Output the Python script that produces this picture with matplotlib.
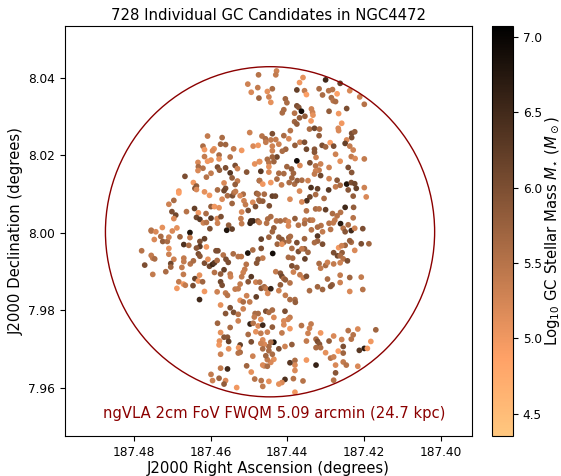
import numpy as np
from matplotlib import pyplot as plt
from matplotlib.patches import Ellipse
from matplotlib.colors import Normalize
from matplotlib.cm import ScalarMappable

# GC positions, in millidegrees from RA 187.44 / Dec 8.00
# north-west part of the field
ra_nw = [7.5,10.3,7.7,9.4,7.4,20.8,17.0,9.8,22.0,17.4,16.1,19.1,21.6,19.5,14.0,11.9,8.9,7.6,21.6,17.8,17.8,14.9,23.3,19.9,20.8,
         23.2,23.3,22.0,18.2,17.7,16.1,13.6,13.0,19.9,21.1,14.9,10.6,8.5,7.3,26.7,14.4,13.0,7.3,24.5,23.7,24.1,23.7,16.5,13.6,28.3,
         28.3,21.6,20.3,18.2,16.1,16.5,15.6,14.3,13.9,13.5,17.0,11.5,12.3,11.3,8.0,7.6,7.4,29.6,30.9,14.4,10.9,9.0,8.3,10.2,24.2,
         19.9,19.0,17.8,30.1,29.1,26.3,23.2,21.2,11.9,8.9,9.7,9.5,7.7,23.7,22.8,19.9,18.3,17.3,29.6,12.1,21.9,21.1,18.2,15.3,11.9,
         32.6,28.8,35.5,15.8,20.2,14.4]
dec_nw = [40.8,38.4,37.5,36.3,34.8,25.0,24.6,25.9,22.4,22.9,22.8,21.7,21.5,21.2,21.7,21.3,22.4,22.6,19.7,20.1,19.1,19.6,18.2,18.8,18.5,
          17.1,16.1,16.7,17.0,16.2,16.8,17.4,16.6,15.4,14.4,15.5,15.7,17.8,18.4,14.6,14.2,13.4,13.5,13.0,12.1,11.5,11.2,12.9,12.5,10.8,
          10.3,10.6,9.7,11.1,11.5,10.9,9.6,9.6,10.4,10.7,8.7,10.0,9.6,8.3,10.2,10.0,8.5,8.4,7.4,7.6,7.3,7.9,6.8,5.8,6.3,
          6.8,6.8,6.5,5.5,4.6,5.5,5.2,5.0,5.4,3.1,2.5,3.1,3.1,4.0,3.5,3.8,3.7,4.2,3.7,3.7,2.6,2.7,2.5,2.0,2.4,
          1.4,1.3,0.7,0.7,1.1,1.0]
mass_nw = [5.5,5.3,5.4,5.2,5.7,5.4,5.6,5.3,5.6,5.7,5.7,5.1,5.0,5.2,5.4,5.0,5.2,5.0,5.4,5.6,5.1,5.5,5.2,5.1,5.0,
           5.6,5.2,5.5,6.0,5.8,6.0,6.0,5.3,5.4,5.5,6.3,5.9,5.1,5.2,6.0,5.8,5.4,5.9,5.0,5.8,5.9,5.2,5.2,5.8,5.0,
           4.9,5.1,5.0,5.6,6.0,6.1,5.6,6.0,5.6,5.4,5.2,5.6,5.2,5.3,5.8,5.6,5.6,5.6,5.3,5.7,5.4,5.2,6.0,6.0,6.2,
           5.8,5.0,5.1,6.0,6.1,5.5,5.0,5.6,5.2,6.6,6.6,6.5,5.7,6.1,6.3,6.3,5.2,6.0,5.2,5.4,5.3,5.5,5.3,5.8,5.4,
           5.1,5.1,5.5,6.8,6.0,6.2]

# north-east part of the field
ra_ne = [2.8,3.0,3.9,5.2,4.8,4.3,-2.5,-3.2,-4.1,-4.5,-5.0,-8.3,-9.2,-10.0,-10.8,-11.8,-13.0,-13.8,-16.3,-18.9,-20.1,-11.5,-12.0,-12.6,0.5,
         0.1,-2.5,-3.0,-3.7,0.9,1.3,-1.9,-3.2,-4.6,-6.3,-6.6,-6.7,-6.2,-10.9,-15.5,-13.4,-1.9,-2.5,-14.2,-0.8,-5.8,-7.1,-8.4,-8.3,-13.3,
         -13.4,-16.8,-17.6,-16.8,-15.5,-15.1,-11.2,-16.3,-17.2,-9.1,-10.0,-12.1,0.9,3.9,6.6,5.7,5.6,4.3,3.0,2.2,-0.4,-3.3,-4.5,-2.0,-5.0,
         -7.1,-7.1,0.4,1.3,3.9,3.9,-12.6,-13.8,-16.7,-17.7,-20.1,2.7,3.9,5.2,3.5,4.8,7.2,-2.5,-3.3,-5.9,-7.5,-8.7,-7.4,-8.3,-7.4,
         -7.1,-10.9,-8.7,-10.9,-15.9,-16.8,0.1,-1.1,-1.6,0.9,2.2,-1.2,-0.5,-1.9,-2.6,-3.8,-5.4,2.7,6.9,4.8,4.8,
         7.2,4.3,6.4,1.5,-6.2,-7.9,-10.8,-12.6,-13.8,-15.5,-16.7,-17.6,-18.0,-20.1,-13.0,-3.2,-7.4,3.9,3.1,6.0,
         -0.7,-5.9,-5.1,-3.8,-9.6,-17.2,-20.6,-15.9,4.7,7.2,6.4,-7.4,-8.3,-5.0,-10.0,-15.1,-17.3,-11.8,-13.0,-13.9,
         -2.0,4.3,5.1,2.8,1.8,0.5,-0.3,-4.6,-5.9,-6.6,-12.4,-17.2,-10.9,-12.0,-13.9,-15.9,-2.9,-4.5,-8.8,-7.9,
         7.3,5.4,3.5,-0.3,-14.6,-19.7]
dec_ne = [41.8,40.8,37.2,36.5,35.1,33.7,36.9,38.8,40.1,36.7,35.7,37.2,35.6,39.5,36.7,37.0,35.9,38.6,36.7,35.1,33.2,34.9,34.1,33.9,34.6,
          33.6,32.8,32.4,31.4,31.8,31.0,30.9,29.7,30.1,32.0,31.1,30.4,28.9,31.4,32.1,30.8,28.7,28.1,28.3,26.4,26.8,27.0,26.8,25.1,27.0,
          26.4,25.7,26.1,24.6,24.0,23.1,23.3,22.4,21.4,22.6,22.2,22.4,25.1,25.6,25.0,24.3,23.4,24.0,24.1,22.9,24.3,23.4,23.4,22.6,21.6,
          21.6,20.8,21.6,21.1,22.4,21.2,20.3,18.5,19.7,19.2,19.1,19.6,19.6,19.0,18.4,18.1,18.4,18.6,17.4,18.1,19.5,17.8,17.3,16.2,16.0,
          15.2,16.9,14.8,14.0,16.9,15.6,17.1,16.5,15.4,15.3,15.4,14.2,13.0,12.6,13.5,13.6,13.5,13.9,15.9,17.1,15.7,
          13.5,13.0,12.6,12.4,11.7,11.4,11.1,11.9,12.3,12.6,13.0,12.7,11.5,11.7,13.6,10.8,9.9,9.5,9.5,10.0,
          8.7,9.3,8.3,8.0,8.9,9.5,9.3,11.1,7.0,8.2,8.2,6.2,6.2,5.7,6.0,6.6,6.6,5.0,4.4,5.3,
          3.7,4.2,3.6,3.1,3.1,3.3,2.9,3.3,3.3,3.3,3.3,3.9,2.5,2.6,2.4,2.1,2.0,2.4,1.9,1.5,
          2.7,2.5,1.3,1.8,1.2,1.1]
mass_ne = [5.3,5.4,5.6,5.1,5.3,5.1,6.2,5.0,5.1,5.4,4.9,5.6,5.6,6.5,5.5,5.5,4.9,6.2,5.2,5.3,5.5,5.6,5.5,5.6,5.7,
           5.6,6.0,5.9,6.9,5.6,5.6,5.5,5.8,5.8,5.3,5.3,5.1,5.0,5.8,6.0,5.0,5.7,5.8,5.0,5.5,5.6,6.1,5.6,5.8,5.2,
           5.2,6.0,5.8,6.0,5.2,6.2,4.9,5.4,5.3,6.0,5.7,6.0,5.6,6.0,5.5,5.6,5.4,5.4,5.4,5.3,5.2,5.3,6.0,5.8,6.1,
           5.9,5.9,5.7,5.6,5.3,5.3,5.3,5.1,5.4,5.2,5.4,6.1,5.7,5.6,5.7,5.5,5.1,6.9,5.2,6.0,5.3,5.3,5.5,5.4,5.3,
           5.4,5.3,6.1,5.3,6.0,5.9,5.7,5.8,5.7,5.6,5.6,5.7,5.6,5.6,5.8,5.6,5.3,5.6,6.3,5.1,5.2,
           5.5,5.0,5.0,5.4,6.4,6.2,6.3,5.4,5.6,6.8,6.0,6.1,6.2,5.3,5.9,5.2,5.6,6.2,6.1,5.6,
           5.2,6.1,6.4,5.2,5.6,5.8,5.2,5.9,6.0,5.7,5.8,5.6,5.5,5.5,6.2,6.5,5.8,5.6,5.5,5.5,
           5.8,5.6,5.6,5.5,5.6,5.5,5.2,5.4,5.6,5.4,5.4,5.5,5.5,5.4,6.7,5.6,5.5,5.6,5.5,5.6,
           5.4,5.5,5.8,5.2,5.5,6.0]

# south-west part of the field
ra_sw = [35.5,34.3,30.0,28.0,25.4,25.4,34.7,33.0,32.5,31.3,30.9,27.0,25.7,22.8,21.6,22.8,23.7,21.1,30.9,38.0,35.5,35.1,34.6,30.9,29.6,
         37.2,35.1,31.7,30.4,30.4,27.5,27.0,27.0,27.1,25.3,24.5,23.2,22.8,21.6,20.7,20.3,19.5,19.0,19.0,18.3,18.6,18.1,16.7,16.0,15.4,
         16.5,17.4,14.9,14.8,12.0,14.1,12.8,10.3,9.0,7.6,8.0,10.7,11.1,11.5,11.9,9.4,22.9,24.1,23.2,22.1,28.3,28.8,27.1,26.6,24.6,
         21.6,22.9,18.3,17.4,17.0,16.1,15.6,17.4,14.9,16.1,14.0,12.8,11.5,12.3,11.5,10.6,9.8,8.1,8.2,10.2,13.6,12.8,12.3,12.8,8.4,
         7.6,8.6,18.2,14.9,9.7,8.9,7.6,8.2,17.4,10.2,16.5,15.6,15.3,17.7,17.8,12.3,12.7,9.4,15.3,17.4,
         12.3,12.8,9.0,10.6,17.4,15.6,9.4,19.9,17.8,16.1,16.5,19.5,13.2,8.5]
dec_sw = [0.5,0.3,0.5,-1.0,0.1,-1.2,-1.7,-0.9,-2.2,-2.2,-1.1,-3.0,-3.2,-2.2,-1.5,-3.5,-3.9,-3.6,-4.0,-4.6,-5.8,-6.5,-6.7,-5.5,-6.8,
          -8.3,-10.7,-10.0,-7.9,-8.8,-8.9,-6.5,-7.4,-10.7,-8.0,-7.2,-5.4,-6.0,-7.8,-6.8,-8.6,-8.1,-7.7,-10.2,-7.1,-4.6,-4.6,-5.7,-6.8,-7.6,
          -9.5,-10.6,-10.6,-11.3,-6.1,-5.4,-6.1,-5.2,-4.4,-6.8,-7.8,-8.1,-9.4,-10.2,-11.3,-11.3,-10.9,-11.8,-12.4,-12.6,-12.6,-14.3,-13.2,-13.5,-13.6,
          -15.1,-17.2,-15.2,-12.6,-13.5,-15.5,-16.1,-18.6,-19.3,-20.8,-20.5,-21.0,-19.6,-17.4,-17.8,-16.2,-17.8,-16.5,-12.7,-12.6,-14.5,-14.4,-13.2,-22.7,-20.8,
          -20.8,-21.7,-23.3,-24.4,-23.5,-23.3,-24.0,-25.5,-25.7,-26.2,-26.9,-26.9,-28.0,-27.9,-28.9,-28.9,-29.6,-28.1,-29.9,-31.3,
          -30.8,-31.0,-31.8,-34.3,-34.9,-35.1,-35.9,-36.5,-37.5,-38.1,-39.0,-38.1,-39.9,-37.7]
mass_sw = [5.5,5.2,5.2,5.7,6.8,5.4,5.2,5.6,5.8,5.6,5.3,6.4,5.6,6.0,6.2,6.3,5.9,5.0,5.1,5.5,5.4,5.4,5.6,5.3,5.3,
           6.0,5.4,5.6,6.1,5.7,5.4,5.4,5.4,5.4,5.5,5.6,6.0,5.9,6.0,5.1,6.1,6.5,6.3,5.5,5.6,6.0,6.0,5.5,6.0,6.0,
           6.2,5.8,5.4,5.3,5.5,5.6,5.5,6.8,5.6,5.9,5.9,5.5,5.4,5.3,5.4,6.3,5.1,6.2,5.0,5.7,5.4,5.0,5.0,5.4,6.0,
           5.0,6.5,5.3,6.1,6.0,5.4,5.5,5.1,6.0,5.9,6.0,5.5,5.3,5.1,5.6,5.3,5.4,6.2,5.3,5.9,5.4,5.4,5.4,5.3,5.6,
           5.6,5.4,5.7,5.6,6.6,5.5,5.2,5.1,5.1,5.6,5.9,5.9,6.2,5.1,5.0,6.2,5.0,6.0,5.1,5.3,
           5.6,5.5,5.3,5.7,5.4,6.5,5.1,5.4,5.7,5.2,5.8,5.3,5.0,5.5]

# south-east part of the field
ra_se = [3.8,6.8,6.8,4.8,3.9,-6.3,-7.9,-9.2,-11.3,-15.1,-16.7,-17.6,2.2,1.4,0.9,-0.4,-0.4,-0.8,-2.5,-4.5,-4.5,-5.4,-9.2,-7.9,-7.1,
         -16.7,-16.3,-15.1,-13.4,-14.2,-17.6,-19.3,-21.3,-12.1,-14.3,-13.1,-13.8,-14.6,-15.7,2.6,1.4,-1.2,-2.9,-3.8,6.4,-0.3,-1.4,-1.2,-2.5,-1.6,
         -4.6,-8.3,-8.7,-10.0,-10.5,-12.1,-13.8,3.0,1.8,1.4,0.9,0.5,-0.7,1.8,-3.3,-4.2,-5.0,-10.5,-13.8,-16.3,-19.3,-13.8,-11.7,-11.3,-7.9,
         -9.2,-5.8,-16.3,-19.7,6.8,6.0,5.5,5.1,4.3,2.2,0.5,-0.7,-2.0,-2.1,7.2,0.6,5.6,4.8,3.9,3.5,-0.7,-0.2,0.9,0.9,6.9,
         6.4,3.9,6.9,5.2,1.4,-3.7,-6.2,-5.8,-5.4,-0.7,-8.7,-12.1,-10.9,-5.0,-7.5,-7.9,-8.4,-7.5,-8.7,-14.2,
         -14.6,-15.9,-18.4,-17.2,-16.7,-23.1,-21.8,-20.1,-18.8,-20.9,-13.3,-14.6,-10.0,-11.3,-12.1,-5.0,-2.0,-2.0,-2.0,-0.7,
         -7.5,-12.6,-12.6,-14.6,-15.4,-18.4,-12.1,-4.1,-1.6,0.6,1.4,2.2,4.8,6.8,6.4,-2.0,3.5,4.3,5.2,6.0,
         6.4,5.6,4.8,3.9,2.2,0.6,-1.2,3.5,4.3,4.8,6.0,6.4,6.4,6.9,5.2]
dec_se = [-5.3,-1.6,-4.0,-1.1,0.3,0.8,-0.8,0.3,0.9,0.3,0.6,1.2,-1.1,-1.7,-2.4,-1.2,-2.1,-0.9,-2.5,-1.5,-4.1,-5.0,-2.9,-2.1,-2.5,
          -2.4,-2.0,-3.2,-3.8,-3.3,-4.5,-2.8,-2.8,-5.1,-5.1,-5.9,-5.9,-6.7,-7.2,-2.9,-2.9,-4.0,-4.8,-4.1,-6.5,-6.3,-6.5,-8.5,-8.9,-10.1,
          -6.7,-7.9,-9.1,-8.4,-7.6,-8.0,-7.7,-10.0,-10.4,-11.2,-11.8,-12.1,-12.9,-13.4,-10.8,-11.6,-11.2,-11.9,-10.9,-11.5,-11.4,-12.8,-13.4,-13.8,-13.9,
          -14.6,-14.9,-15.1,-14.6,-14.3,-13.9,-14.4,-15.6,-14.4,-14.9,-16.1,-17.2,-17.2,-17.9,-12.7,-20.2,-20.2,-20.5,-19.9,-21.8,-21.8,-22.3,-22.7,-23.7,-22.3,
          -23.8,-24.3,-25.9,-25.6,-25.8,-23.9,-23.5,-24.6,-25.9,-24.7,-25.8,-26.6,-27.9,-27.9,-27.4,-28.0,-28.7,-29.6,-29.6,-27.5,
          -29.3,-25.2,-24.8,-26.3,-27.4,-25.0,-28.0,-29.8,-30.3,-29.8,-30.5,-31.0,-30.9,-32.3,-32.0,-32.8,-32.9,-34.1,-35.5,-33.5,
          -34.1,-34.1,-36.1,-33.3,-34.1,-34.4,-38.0,-38.2,-37.6,-37.8,-38.6,-39.0,-38.3,-38.1,-39.6,-41.1,-32.6,-33.4,-32.7,-34.3,
          -34.1,-31.7,-30.4,-31.3,-29.9,-29.3,-28.8,-28.2,-28.2,-29.3,-28.7,-27.6,-29.9,-28.5,-34.4]
mass_se = [6.9,6.2,6.0,5.7,5.7,5.5,6.3,5.4,5.5,5.9,6.5,5.3,5.8,5.9,5.7,5.7,5.6,5.6,6.0,5.7,5.8,5.7,6.0,5.7,5.6,
           5.6,5.8,5.7,5.0,5.3,5.2,6.0,5.7,6.0,5.8,6.1,5.6,5.5,6.0,5.7,5.1,5.6,6.0,5.4,5.4,5.6,5.6,6.0,5.8,5.3,
           6.2,5.6,5.4,5.6,5.3,5.4,5.3,5.4,5.9,6.1,5.6,5.8,5.5,5.8,5.4,5.3,6.0,5.6,5.4,5.7,5.4,5.3,5.8,5.9,5.7,
           5.7,5.6,5.2,5.5,5.9,5.6,5.4,5.2,6.6,5.3,5.4,5.6,5.6,5.8,5.5,6.0,6.0,5.6,5.6,5.2,5.4,5.3,5.2,5.2,5.1,
           6.5,5.8,5.4,5.3,5.4,5.5,5.4,5.3,5.3,5.0,5.0,5.2,5.8,5.4,5.6,6.0,5.9,5.6,5.6,5.3,
           6.0,5.5,5.2,5.5,5.5,5.7,5.0,6.7,6.3,5.0,4.9,5.7,5.1,5.5,5.3,5.0,5.6,5.2,5.2,6.3,
           6.6,5.2,5.9,5.4,5.5,5.2,5.5,5.5,5.5,6.4,5.2,5.1,5.1,5.5,5.4,5.0,5.1,5.2,5.4,5.4,
           5.2,5.7,5.6,5.6,6.0,5.3,5.8,6.8,5.6,5.6,5.2,5.2,5.6,5.3,5.6]

ra = 187.44 + np.array(ra_nw + ra_ne + ra_sw + ra_se) / 1000
dec = 8.0 + np.array(dec_nw + dec_ne + dec_sw + dec_se) / 1000
mass = np.array(mass_nw + mass_ne + mass_sw + mass_se)

# Field of view circle
fov_ra = 187.4445
fov_dec = 8.0003
fov_width = 0.0859
fov_height = 0.0852

fig = plt.figure(figsize=(5.61, 4.76), dpi=100)
ax = fig.add_axes([65 / 561, 40 / 476, 407 / 561, 410 / 476])
cax = fig.add_axes([492 / 561, 40 / 476, 21 / 561, 410 / 476])

norm = Normalize(4.354, 7.07)
ax.scatter(ra, dec, c=mass, s=17, cmap='copper_r', norm=norm, linewidths=0)
ax.add_patch(Ellipse((fov_ra, fov_dec), fov_width, fov_height, fill=False, edgecolor='darkred', linewidth=1))
ax.text(187.4435, 7.9533, 'ngVLA 2cm FoV FWQM 5.09 arcmin (24.7 kpc)', color='darkred', fontsize=10.65, ha='center', va='center')

ax.set_xlim(187.4980, 187.3918)
ax.set_ylim(7.9476, 8.0534)
ax.set_xticks([187.48, 187.46, 187.44, 187.42, 187.40])
ax.set_yticks([7.96, 7.98, 8.00, 8.02, 8.04])
ax.set_xticklabels(['187.48', '187.46', '187.44', '187.42', '187.40'])
ax.tick_params(labelsize=8.7)
ax.set_title('728 Individual GC Candidates in NGC4472', fontsize=10.75, pad=4)
ax.set_xlabel('J2000 Right Ascension (degrees)', fontsize=10.7, labelpad=2)
ax.set_ylabel('J2000 Declination (degrees)', fontsize=10.7, labelpad=3)

cb = fig.colorbar(ScalarMappable(norm=norm, cmap='copper_r'), cax=cax)
cb.set_ticks([4.5, 5.0, 5.5, 6.0, 6.5, 7.0])
cb.ax.tick_params(labelsize=8.7)
cb.set_label(r'Log$_{10}$ GC Stellar Mass $M_{\star}$ ($M_\odot$)', fontsize=10.7, labelpad=1)

plt.savefig('out.png', dpi=100)
